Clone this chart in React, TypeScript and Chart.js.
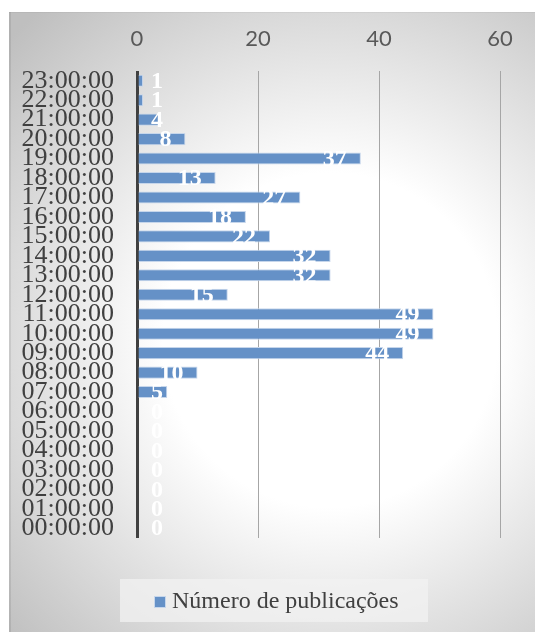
import React, { useEffect, useRef } from 'react';
import { Chart, registerables } from 'chart.js';

Chart.register(...registerables);

const categories = [
  '00:00:00', '01:00:00', '02:00:00', '03:00:00', '04:00:00', '05:00:00',
  '06:00:00', '07:00:00', '08:00:00', '09:00:00', '10:00:00', '11:00:00',
  '12:00:00', '13:00:00', '14:00:00', '15:00:00', '16:00:00', '17:00:00',
  '18:00:00', '19:00:00', '20:00:00', '21:00:00', '22:00:00', '23:00:00',
];
const publications = [0, 0, 0, 0, 0, 0, 0, 5, 10, 44, 49, 49, 15, 32, 32, 22, 18, 27, 13, 37, 8, 4, 1, 1];
const xTicks = [0, 20, 40, 60];
const seriesLabel = 'Número de publicações';

const BAR_COLOR = '#6591c7';
const BAR_BORDER = '#c6d6eb';

const bgPlugin = {
  id: 'bgPlugin',
  beforeDraw(chart: any) {
    const { ctx, width, height } = chart;
    ctx.save();
    ctx.fillStyle = '#ffffff';
    ctx.fillRect(0, 0, width, height);
    const g = ctx.createRadialGradient(330, 340, 0, 330, 340, 440);
    g.addColorStop(0, '#ffffff');
    g.addColorStop(0.38, '#ffffff');
    g.addColorStop(1, '#bfbfbf');
    ctx.fillStyle = g;
    ctx.fillRect(9, 12, width - 9, height - 12);
    ctx.fillStyle = 'rgba(0,0,0,0.08)';
    ctx.fillRect(9, 12, 2, height - 12);
    ctx.fillStyle = 'rgba(0,0,0,0.04)';
    ctx.fillRect(9, 12, width - 9, 1);
    ctx.restore();
  },
};

const labelsPlugin = {
  id: 'labelsPlugin',
  afterDraw(chart: any) {
    const { ctx } = chart;
    const xs = chart.scales.x;
    const meta = chart.getDatasetMeta(0);
    const base = xs.getPixelForValue(0);
    ctx.save();
    ctx.font = 'bold 24px "Liberation Serif"';
    ctx.fillStyle = '#ffffff';
    ctx.textAlign = 'center';
    ctx.textBaseline = 'middle';
    meta.data.forEach((bar: any, i: number) => {
      const v = publications[i];
      const txt = String(v);
      const end = xs.getPixelForValue(v);
      const w = ctx.measureText(txt).width;
      let cx = end - 14 - w / 2;
      cx = Math.max(cx, base + 20);
      ctx.fillText(txt, cx, bar.y + 1);
    });

    // legend
    const boxL = 120, boxT = 579, boxW = 308, boxH = 43;
    ctx.fillStyle = 'rgba(242,242,242,0.75)';
    ctx.fillRect(boxL, boxT, boxW, boxH);
    ctx.fillStyle = BAR_COLOR;
    ctx.fillRect(154, 596, 11, 11);
    ctx.strokeStyle = BAR_BORDER;
    ctx.lineWidth = 1;
    ctx.strokeRect(154.5, 596.5, 11, 11);
    ctx.font = '24px "Liberation Serif"';
    ctx.fillStyle = '#404040';
    ctx.textAlign = 'left';
    ctx.textBaseline = 'middle';
    ctx.fillText(seriesLabel, 172, 602);
    ctx.restore();
  },
};

export default function App() {
  const ref = useRef<HTMLCanvasElement>(null);

  useEffect(() => {
    if (!ref.current) return;
    const chart = new Chart(ref.current, {
      type: 'bar',
      data: {
        labels: categories,
        datasets: [
          {
            label: seriesLabel,
            data: publications,
            backgroundColor: BAR_COLOR,
            borderColor: BAR_BORDER,
            borderWidth: 1,
            barPercentage: 0.62,
            categoryPercentage: 1,
          },
        ],
      },
      options: {
        indexAxis: 'y',
        responsive: false,
        animation: false,
        layout: { padding: { left: 0, right: 35, top: 0, bottom: 94 } },
        plugins: { legend: { display: false }, tooltip: { enabled: false } },
        scales: {
          x: {
            position: 'top',
            min: 0,
            max: 60,
            z: 1,
            afterFit: (s: any) => {
              s.height = 71;
            },
            afterBuildTicks: (s: any) => {
              s.ticks = xTicks.map((v) => ({ value: v }));
            },
            grid: {
              drawTicks: false,
              color: (c: any) => (c.tick && c.tick.value === 0 ? '#404040' : '#a6a6a6'),
              lineWidth: (c: any) => (c.tick && c.tick.value === 0 ? 3 : 1),
            },
            border: { display: false },
            ticks: {
              padding: 19,
              color: '#595959',
              font: { family: 'Lato', size: 22 },
            },
          },
          y: {
            reverse: true,
            afterFit: (s: any) => {
              s.width = 137;
            },
            grid: { display: false, drawTicks: false },
            border: { display: false },
            ticks: {
              autoSkip: false,
              padding: 23,
              color: '#404040',
              font: { family: '"Liberation Serif"', size: 26 },
            },
          },
        },
      } as any,
      plugins: [bgPlugin, labelsPlugin],
    });
    return () => chart.destroy();
  }, []);

  return (
    <div style={{ position: 'fixed', left: 0, top: 0, width: 535, height: 632 }}>
      <canvas ref={ref} width={535} height={632} style={{ display: 'block' }} />
    </div>
  );
}
